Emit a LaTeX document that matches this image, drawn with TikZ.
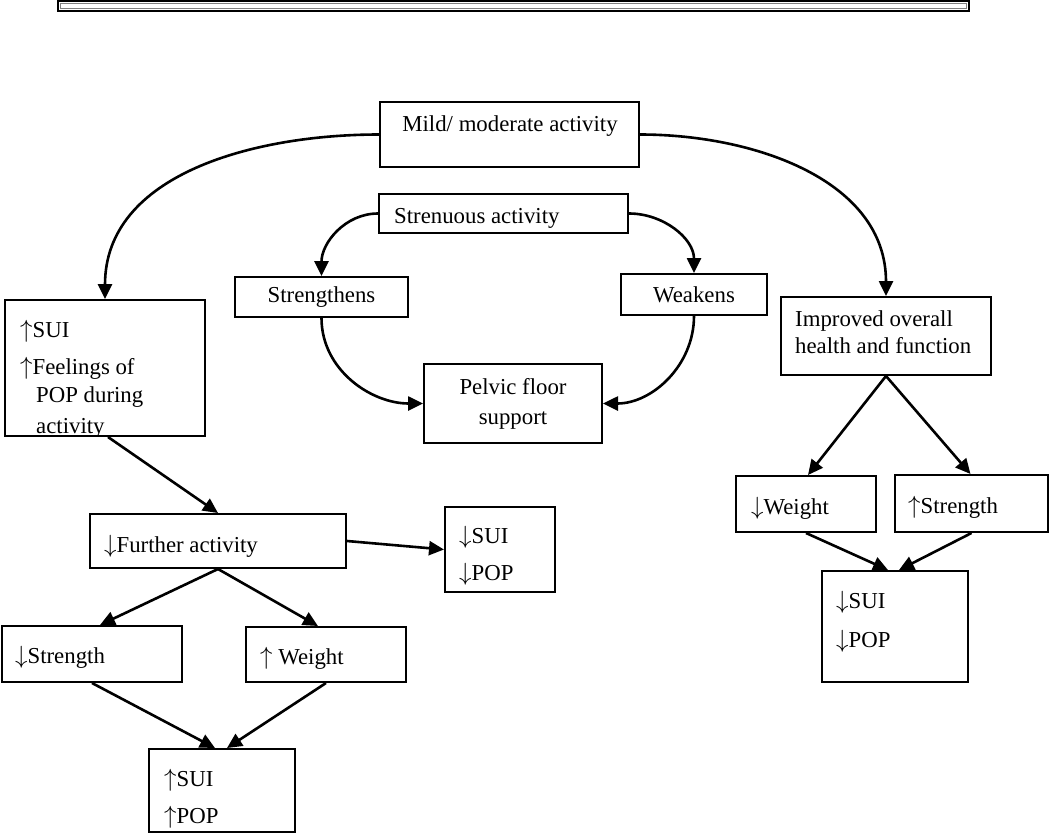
\documentclass[tikz,border=0pt]{standalone}
\usepackage{fontspec}
\setmainfont{Liberation Serif}
\usetikzlibrary{arrows.meta,calc}
\newcommand{\dgfont}{\fontsize{22.8}{30}\selectfont}
\newcommand{\up}{{\fontsize{31}{31}\selectfont$\uparrow$}}
\newcommand{\dn}{{\fontsize{31}{31}\selectfont$\downarrow$}}
\begin{document}
\begin{tikzpicture}[x=1pt,y=1pt,
  box/.style={draw,line width=2pt,inner sep=0pt,font=\dgfont,align=center},
  txt/.style={anchor=base west,inner sep=0pt,font=\dgfont},
  con/.style={line width=2.6pt,-{Triangle[length=15pt,width=14pt]}}]
\useasboundingbox (0,0) rectangle (1050,-833);
% top bar
\draw[line width=2pt] (58,-1) rectangle (969,-10.5);
\draw[gray,line width=0.8pt] (60.5,-3) rectangle (966.5,-8);
% boxes
\node[box,minimum width=259,minimum height=65] (mild) at (509.5,-134.5) {};
\node[box,minimum width=249,minimum height=39] (stren) at (503.5,-213.5) {};
\node[box,minimum width=173,minimum height=40] (sgth) at (321.5,-297) {Strengthens};
\node[box,minimum width=146,minimum height=41] (weak) at (694,-294.5) {Weakens};
\node[box,minimum width=178,minimum height=79] (pelvic) at (513,-403.5) {Pelvic floor\\support};
\node[box,minimum width=200,minimum height=136] (sui) at (105,-368) {};
\node[box,minimum width=210,minimum height=78] (impr) at (886,-336) {};
\node[box,minimum width=256,minimum height=54] (further) at (218,-541) {};
\node[box,minimum width=110,minimum height=85] (dsmall) at (500,-549.5) {};
\node[box,minimum width=140,minimum height=56] (dweight) at (806,-504) {};
\node[box,minimum width=153,minimum height=57] (ustr) at (971.5,-503.5) {};
\node[box,minimum width=146,minimum height=111] (rbot) at (895,-626.5) {};
\node[box,minimum width=180,minimum height=56] (dstr) at (92,-654) {};
\node[box,minimum width=160,minimum height=55] (uwt) at (326,-654.5) {};
\node[box,minimum width=146,minimum height=83] (lbot) at (222,-790.5) {};
% texts
\node[anchor=base,inner sep=0pt,font=\dgfont] (tmild) at (510,-131) {Mild/ moderate activity};
\node[txt] (tstren) at (394,-223) {Strenuous activity};
\begin{scope}
\clip ($(sui.north west)+(1,-1)$) rectangle ($(sui.south east)+(-1,1)$);
\node[txt] (tsui1) at (20,-337) {\up SUI};
\node[txt] (tsui2) at (20,-374) {\up Feelings of};
\node[txt] (tsui3) at (36,-402) {POP during};
\node[txt] (tsui4) at (36,-433) {activity};
\end{scope}
\node[txt] (timp1) at (795,-326) {Improved overall};
\node[txt] (timp2) at (795,-353) {health and function};
\node[txt] (tfur) at (104,-552) {\dn Further activity};
\node[txt] (tds1) at (459,-543) {\dn SUI};
\node[txt] (tds2) at (459,-580) {\dn POP};
\node[txt] (tdw) at (751,-514) {\dn Weight};
\node[txt] (tus) at (908,-513) {\up Strength};
\node[txt] (trb1) at (836,-608) {\dn SUI};
\node[txt] (trb2) at (836,-647) {\dn POP};
\node[txt] (tdst) at (15,-663) {\dn Strength};
\node[txt] (tuw) at (260,-664) {\up\ Weight};
\node[txt] (tlb1) at (164,-786) {\up SUI};
\node[txt] (tlb2) at (164,-823) {\up POP};
% curved connectors
\draw[con] (mild.west) to[out=180,in=90] (sui.north);
\draw[con] (mild.east) to[out=0,in=90] (impr.north);
\draw[con] (stren.west) to[out=180,in=90] (sgth.north);
\draw[con] (stren.east) to[out=0,in=90] (weak.north);
\draw[con] (sgth.south) to[out=270,in=180] (pelvic.west);
\draw[con] (weak.south) to[out=270,in=0] (pelvic.east);
% straight connectors
\draw[con] ($(sui.south)+(3,0)$) -- (further.north);
\draw[con] (further.east) -- (dsmall.west);
\draw[con] (further.south) -- ($(dstr.north)+(8,0)$);
\draw[con] (further.south) -- ($(uwt.north)+(-8,0)$);
\draw[con] (dstr.south) -- ($(lbot.north)+(-7,0)$);
\draw[con] (uwt.south) -- ($(lbot.north)+(5,0)$);
\draw[con] (impr.south) -- ($(dweight.north)+(2,0)$);
\draw[con] (impr.south) -- ($(ustr.north)+(-1,0)$);
\draw[con] (dweight.south) -- ($(rbot.north)+(-7,0)$);
\draw[con] (ustr.south) -- ($(rbot.north)+(4,0)$);
\end{tikzpicture}
\end{document}
